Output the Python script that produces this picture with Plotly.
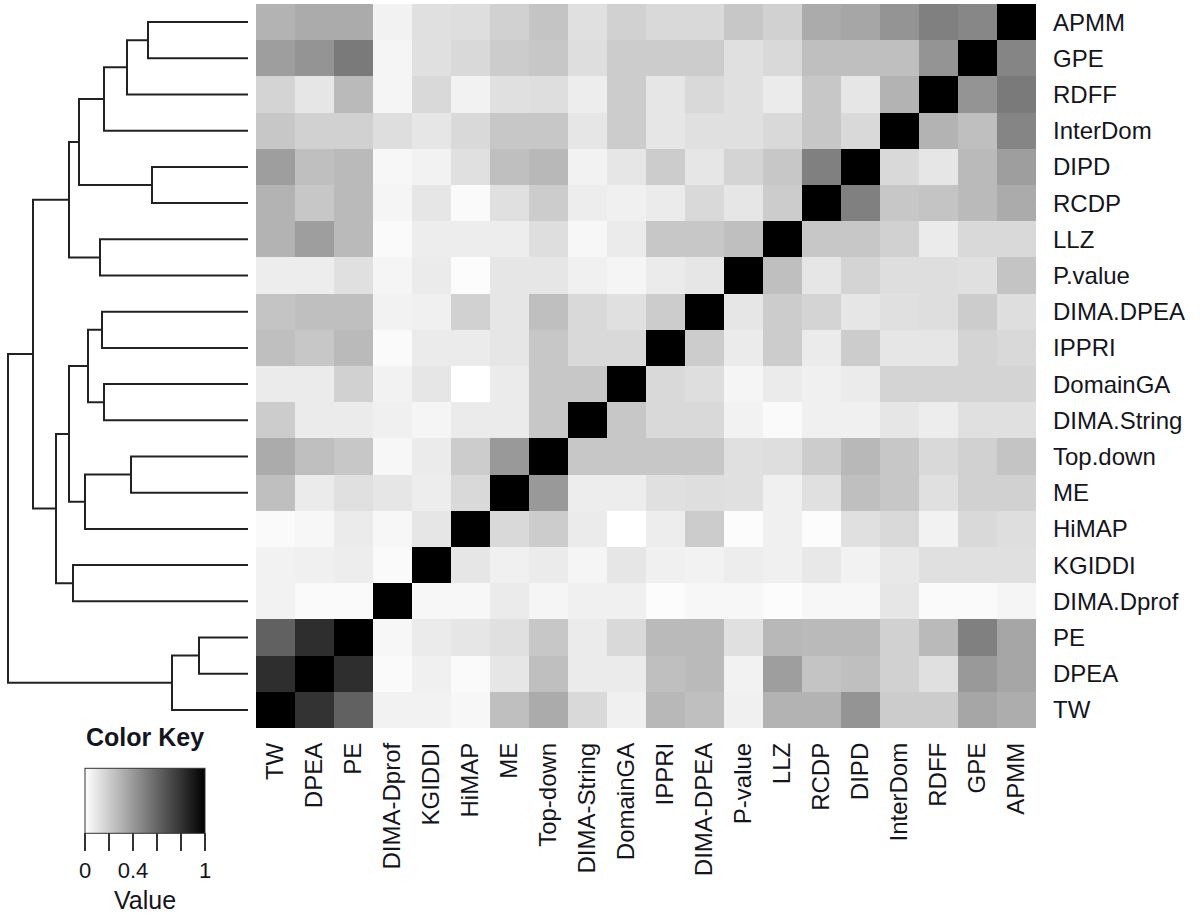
import plotly.graph_objects as go

W, H = 1200, 922

rows = ["APMM", "GPE", "RDFF", "InterDom", "DIPD", "RCDP", "LLZ", "P.value",
        "DIMA.DPEA", "IPPRI", "DomainGA", "DIMA.String", "Top.down", "ME",
        "HiMAP", "KGIDDI", "DIMA.Dprof", "PE", "DPEA", "TW"]
cols = ["TW", "DPEA", "PE", "DIMA-Dprof", "KGIDDI", "HiMAP", "ME", "Top-down",
        "DIMA-String", "DomainGA", "IPPRI", "DIMA-DPEA", "P-value", "LLZ",
        "RCDP", "DIPD", "InterDom", "RDFF", "GPE", "APMM"]

row_APMM = [0.30, 0.33, 0.33, 0.05, 0.12, 0.13, 0.18, 0.23, 0.12, 0.18, 0.15, 0.15, 0.22, 0.18, 0.33, 0.35, 0.42, 0.50, 0.47, 1]
row_GPE = [0.38, 0.42, 0.52, 0.04, 0.12, 0.15, 0.20, 0.22, 0.13, 0.20, 0.20, 0.20, 0.12, 0.15, 0.25, 0.25, 0.25, 0.42, 1, 0.48]
row_RDFF = [0.17, 0.10, 0.27, 0.04, 0.15, 0.05, 0.12, 0.13, 0.07, 0.20, 0.10, 0.15, 0.12, 0.08, 0.22, 0.10, 0.30, 1, 0.42, 0.52]
row_InterDom = [0.22, 0.18, 0.18, 0.13, 0.10, 0.15, 0.22, 0.22, 0.10, 0.20, 0.10, 0.12, 0.12, 0.15, 0.22, 0.15, 1, 0.30, 0.25, 0.48]
row_DIPD = [0.38, 0.25, 0.27, 0.03, 0.05, 0.12, 0.25, 0.28, 0.05, 0.10, 0.20, 0.10, 0.17, 0.22, 0.50, 1, 0.15, 0.10, 0.27, 0.38]
row_RCDP = [0.30, 0.22, 0.27, 0.04, 0.10, 0.02, 0.12, 0.20, 0.07, 0.06, 0.08, 0.15, 0.10, 0.20, 1, 0.50, 0.22, 0.23, 0.27, 0.33]
row_LLZ = [0.30, 0.38, 0.27, 0.02, 0.07, 0.07, 0.07, 0.13, 0.03, 0.08, 0.22, 0.22, 0.25, 1, 0.22, 0.22, 0.18, 0.08, 0.15, 0.15]
row_Pvalue = [0.07, 0.07, 0.12, 0.04, 0.08, 0.01, 0.10, 0.10, 0.06, 0.04, 0.08, 0.10, 1, 0.25, 0.10, 0.17, 0.13, 0.13, 0.12, 0.23]
row_DIMA_DPEA = [0.23, 0.25, 0.25, 0.05, 0.06, 0.18, 0.10, 0.25, 0.15, 0.12, 0.20, 1, 0.10, 0.20, 0.17, 0.10, 0.12, 0.13, 0.20, 0.13]
row_IPPRI = [0.25, 0.22, 0.27, 0.02, 0.08, 0.08, 0.10, 0.22, 0.15, 0.15, 1, 0.20, 0.08, 0.20, 0.08, 0.20, 0.10, 0.10, 0.17, 0.15]
row_DomainGA = [0.08, 0.08, 0.18, 0.05, 0.10, 0.00, 0.08, 0.22, 0.22, 1, 0.15, 0.13, 0.04, 0.08, 0.06, 0.08, 0.17, 0.17, 0.17, 0.17]
row_DIMA_String = [0.20, 0.08, 0.08, 0.06, 0.04, 0.08, 0.08, 0.22, 1, 0.22, 0.15, 0.15, 0.05, 0.02, 0.06, 0.06, 0.10, 0.07, 0.12, 0.12]
row_Top_down = [0.33, 0.25, 0.22, 0.03, 0.08, 0.20, 0.40, 1, 0.22, 0.22, 0.22, 0.22, 0.12, 0.13, 0.20, 0.28, 0.22, 0.15, 0.18, 0.23]
row_ME = [0.25, 0.08, 0.12, 0.10, 0.07, 0.15, 1, 0.40, 0.07, 0.07, 0.12, 0.13, 0.12, 0.06, 0.12, 0.25, 0.22, 0.12, 0.18, 0.18]
row_HiMAP = [0.02, 0.03, 0.08, 0.03, 0.10, 1, 0.15, 0.20, 0.08, 0.00, 0.07, 0.20, 0.01, 0.06, 0.01, 0.12, 0.15, 0.05, 0.15, 0.13]
row_KGIDDI = [0.05, 0.06, 0.07, 0.02, 1, 0.10, 0.06, 0.08, 0.04, 0.10, 0.06, 0.05, 0.07, 0.06, 0.09, 0.05, 0.09, 0.12, 0.12, 0.12]
row_DIMA_Dprof = [0.05, 0.02, 0.02, 1, 0.03, 0.03, 0.08, 0.04, 0.06, 0.06, 0.01, 0.03, 0.03, 0.01, 0.03, 0.03, 0.10, 0.02, 0.02, 0.04]
row_PE = [0.62, 0.82, 1, 0.03, 0.08, 0.10, 0.12, 0.22, 0.08, 0.15, 0.27, 0.27, 0.12, 0.28, 0.27, 0.27, 0.18, 0.27, 0.50, 0.35]
row_DPEA = [0.82, 1, 0.82, 0.02, 0.06, 0.02, 0.10, 0.25, 0.08, 0.08, 0.25, 0.27, 0.05, 0.38, 0.23, 0.25, 0.18, 0.12, 0.40, 0.35]
row_TW = [1, 0.80, 0.62, 0.05, 0.05, 0.03, 0.25, 0.33, 0.15, 0.06, 0.28, 0.25, 0.06, 0.30, 0.30, 0.42, 0.20, 0.20, 0.35, 0.32]

z = [row_APMM, row_GPE, row_RDFF, row_InterDom, row_DIPD, row_RCDP, row_LLZ,
     row_Pvalue, row_DIMA_DPEA, row_IPPRI, row_DomainGA, row_DIMA_String,
     row_Top_down, row_ME, row_HiMAP, row_KGIDDI, row_DIMA_Dprof, row_PE,
     row_DPEA, row_TW]

# row dendrogram: (left, right, height); ints refer to earlier merges
merges = [
    ("APMM", "GPE", 100),
    (0, "RDFF", 121),
    (1, "InterDom", 144),
    ("DIPD", "RCDP", 96),
    (2, 3, 169),
    ("LLZ", "P.value", 148),
    (4, 5, 179),
    ("DIMA.DPEA", "IPPRI", 146),
    ("DomainGA", "DIMA.String", 144),
    (7, 8, 160),
    ("Top.down", "ME", 117),
    (10, "HiMAP", 163),
    (9, 11, 179),
    ("KGIDDI", "DIMA.Dprof", 175),
    (12, 13, 192),
    (6, 14, 215),
    ("PE", "DPEA", 49),
    (16, "TW", 76),
    (15, 17, 240),
]

font = "Liberation Sans, Arial, sans-serif"
ink = "#151520"
y_dom = [1 - 728 / H, 1 - 4 / H]

fig = go.Figure()
fig.add_trace(go.Heatmap(
    z=z, x=list(range(len(cols))), y=list(range(len(rows))),
    colorscale=[[0, "white"], [1, "black"]], zmin=0, zmax=1,
    colorbar=dict(
        orientation="h", x=145 / W, xanchor="center",
        y=1 - 812 / H, yanchor="middle",
        lenmode="pixels", len=120, thicknessmode="pixels", thickness=65,
        tickvals=[0, 0.2, 0.4, 0.6, 0.8, 1],
        ticktext=["0", "", "0.4", "", "", "1"],
        ticks="outside", ticklen=18, tickwidth=2, tickcolor="#333",
        tickfont=dict(size=22, color=ink),
        outlinewidth=1, outlinecolor="#333",
        title=dict(text="<b>Color Key</b>", side="top",
                   font=dict(size=25, color=ink)),
        xpad=0, ypad=0,
    ),
))

pos = {name: (0, i) for i, name in enumerate(rows)}
xs, ys = [], []
for k, (a, b, h) in enumerate(merges):
    ha, ya = pos[a]
    hb, yb = pos[b]
    xs += [ha, h, h, hb, None]
    ys += [ya, ya, yb, yb, None]
    pos[k] = (h, (ya + yb) / 2)

fig.add_trace(go.Scatter(
    x=xs, y=ys, mode="lines", line=dict(color="#222", width=2),
    xaxis="x2", yaxis="y2", showlegend=False, hoverinfo="skip",
))

fig.add_annotation(text="Value", x=145 / W, y=1 - 900 / H, xref="paper", yref="paper",
                   xanchor="center", yanchor="middle",
                   showarrow=False, font=dict(size=25, color=ink))

fig.update_layout(
    width=W, height=H, margin=dict(l=0, r=0, t=0, b=0),
    paper_bgcolor="white", plot_bgcolor="white",
    font=dict(family=font, color=ink),
    xaxis=dict(domain=[256 / W, 1036 / W], range=[-0.5, len(cols) - 0.5],
               tickvals=list(range(len(cols))), ticktext=cols, tickangle=-90,
               tickfont=dict(size=24), ticks="", ticklabelstandoff=9,
               showgrid=False, zeroline=False, showline=False, automargin=False),
    yaxis=dict(domain=y_dom, range=[len(rows) - 0.5, -0.5], side="right",
               tickvals=list(range(len(rows))), ticktext=rows,
               tickfont=dict(size=24), ticks="", ticklabelstandoff=16,
               showgrid=False, zeroline=False, showline=False, automargin=False),
    xaxis2=dict(domain=[0, 248 / W], range=[248, 0], anchor="y2", visible=False),
    yaxis2=dict(domain=y_dom, range=[len(rows) - 0.5, -0.5], anchor="x2", visible=False),
)

fig.write_html("out.html", config={"displayModeBar": False},
               post_script="document.body.style.margin = '0';")
